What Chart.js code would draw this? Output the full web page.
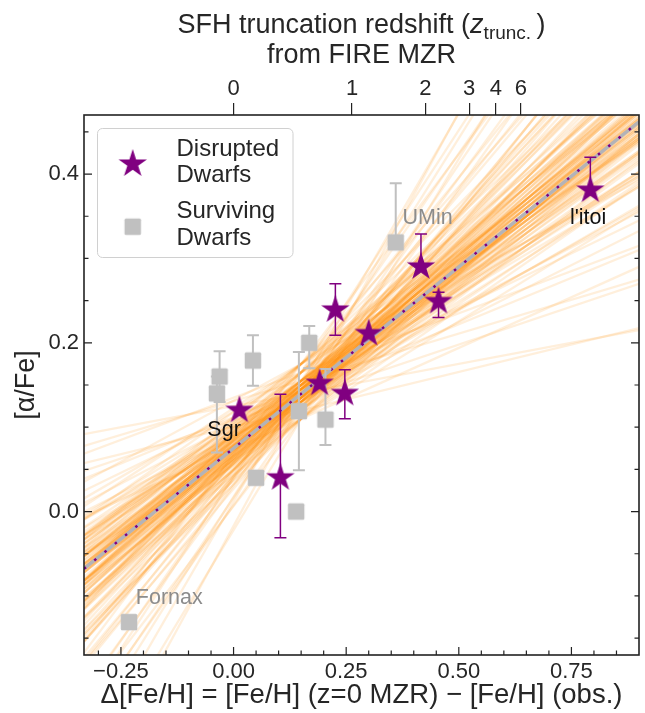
<!DOCTYPE html>
<html>
<head>
<meta charset="utf-8">
<script src="https://cdn.jsdelivr.net/npm/chart.js@4.4.0/dist/chart.umd.min.js"></script>
<style>
  html, body { margin: 0; padding: 0; background: #fff; }
</style>
</head>
<body>
<canvas id="chart" width="645" height="713"></canvas>
<script>
// axis ranges and ticks
const xMin = -0.332, xMax = 0.9;
const yMin = -0.17, yMax = 0.47;
const xTickValues = [-0.25, 0, 0.25, 0.5, 0.75];
const xTickLabels = ['\u22120.25', '0.00', '0.25', '0.50', '0.75'];
const xMinorTickValues = [-0.30, -0.20, -0.15, -0.10, -0.05, 0.05, 0.10, 0.15, 0.20, 0.30, 0.35, 0.40, 0.45, 0.55, 0.60, 0.65, 0.70, 0.80, 0.85];
const yTickValues = [0.0, 0.2, 0.4];
const yTickLabels = ['0.0', '0.2', '0.4'];
const yMinorTickValues = [-0.15, -0.10, -0.05, 0.05, 0.10, 0.15, 0.25, 0.30, 0.35, 0.45];
// top axis: truncation redshift placed at its delta[Fe/H]
const zTickValues = [0.0, 0.263, 0.426, 0.523, 0.582, 0.638];
const zTickLabels = ['0', '1', '2', '3', '4', '6'];

// disrupted dwarfs (stars)
const disruptedX = [0.013, 0.104, 0.191, 0.226, 0.247, 0.300, 0.416, 0.455, 0.792];
const disruptedY = [0.120, 0.040, 0.152, 0.239, 0.140, 0.211, 0.290, 0.249, 0.381];
const disruptedErrLo = [0, 0.071, 0, 0.03, 0.03, 0, 0, 0.019, 0];
const disruptedErrHi = [0, 0.099, 0, 0.031, 0.028, 0, 0.039, 0.011, 0.039];

// surviving dwarfs (squares)
const survivingX = [-0.232, -0.031, -0.037, 0.043, 0.050, 0.139, 0.145, 0.168, 0.204, 0.360];
const survivingY = [-0.131, 0.160, 0.140, 0.179, 0.040, 0.000, 0.119, 0.200, 0.109, 0.319];
const survivingErrLo = [0, 0.03, 0.07, 0.03, 0, 0, 0.07, 0.03, 0.03, 0];
const survivingErrHi = [0, 0.03, 0.02, 0.03, 0, 0, 0.07, 0.02, 0.06, 0.07];

// labelled galaxies
const labelNames = ['Sgr', 'UMin', "l'itoi", 'Fornax'];
const labelX = [-0.021, 0.375, 0.787, -0.217];
const labelY = [0.097, 0.348, 0.348, -0.102];

// best fit
const fitSlope = 0.43;
const fitIntercept = 0.075;

// posterior fit samples: slope, and value at samplePivotX
const samplePivotX = 0.15;
const sampleSlopes = [
  0.10, 0.13, 0.16, 0.18, 0.20, 0.22, 0.24, 0.26, 0.27, 0.29,
  0.30, 0.31, 0.32, 0.33, 0.33, 0.34, 0.35, 0.35, 0.36, 0.36,
  0.37, 0.37, 0.38, 0.38, 0.38, 0.39, 0.39, 0.39, 0.40, 0.40,
  0.40, 0.41, 0.41, 0.41, 0.41, 0.42, 0.42, 0.42, 0.42, 0.42,
  0.43, 0.43, 0.43, 0.43, 0.43, 0.43, 0.44, 0.44, 0.44, 0.44,
  0.44, 0.45, 0.45, 0.45, 0.45, 0.46, 0.46, 0.46, 0.46, 0.47,
  0.47, 0.47, 0.48, 0.48, 0.48, 0.49, 0.49, 0.50, 0.50, 0.51,
  0.51, 0.52, 0.52, 0.53, 0.53, 0.54, 0.55, 0.55, 0.56, 0.57,
  0.58, 0.59, 0.60, 0.61, 0.62, 0.63, 0.64, 0.66, 0.67, 0.69,
  0.71, 0.73, 0.75, 0.77, 0.79, 0.82, 0.85, 0.88, 0.92, 0.98,
  0.35, 0.36, 0.37, 0.38, 0.39, 0.40, 0.40, 0.41, 0.41, 0.42,
  0.42, 0.42, 0.43, 0.43, 0.43, 0.43, 0.44, 0.44, 0.44, 0.45,
  0.45, 0.45, 0.46, 0.46, 0.47, 0.47, 0.48, 0.48, 0.49, 0.50,
  0.28, 0.31, 0.33, 0.34, 0.52, 0.54, 0.56, 0.58, 0.61, 0.65,
  0.39, 0.41, 0.43, 0.44, 0.46, 0.38, 0.42, 0.45, 0.47, 0.50
];
const sampleLevels = [
  0.140, 0.120, 0.155, 0.135, 0.165, 0.145, 0.110, 0.150, 0.130, 0.175,
  0.135, 0.165, 0.145, 0.110, 0.150, 0.130, 0.175, 0.140, 0.120, 0.155,
  0.110, 0.150, 0.130, 0.175, 0.140, 0.120, 0.155, 0.135, 0.165, 0.145,
  0.155, 0.135, 0.165, 0.145, 0.110, 0.150, 0.130, 0.175, 0.140, 0.120,
  0.130, 0.175, 0.140, 0.120, 0.155, 0.135, 0.165, 0.145, 0.110, 0.150,
  0.145, 0.110, 0.150, 0.130, 0.175, 0.140, 0.120, 0.155, 0.135, 0.165,
  0.120, 0.155, 0.135, 0.165, 0.145, 0.110, 0.150, 0.130, 0.175, 0.140,
  0.165, 0.145, 0.110, 0.150, 0.130, 0.175, 0.140, 0.120, 0.155, 0.135,
  0.150, 0.130, 0.175, 0.140, 0.120, 0.155, 0.135, 0.165, 0.145, 0.110,
  0.175, 0.140, 0.120, 0.155, 0.135, 0.165, 0.145, 0.110, 0.150, 0.130,
  0.140, 0.130, 0.145, 0.135, 0.150, 0.125, 0.140, 0.155, 0.130, 0.145,
  0.135, 0.150, 0.140, 0.125, 0.145, 0.155, 0.130, 0.140, 0.150, 0.135,
  0.145, 0.125, 0.140, 0.155, 0.130, 0.145, 0.135, 0.150, 0.140, 0.125,
  0.145, 0.130, 0.155, 0.140, 0.135, 0.150, 0.125, 0.145, 0.140, 0.130,
  0.150, 0.140, 0.135, 0.145, 0.130, 0.155, 0.140, 0.125, 0.145, 0.135
];

const FONT = "'Liberation Sans', Arial, Helvetica, sans-serif";
const TEXT = '#262626';
const PURPLE = '#800080';
const SILVER = '#c0c0c0';

Chart.defaults.font.family = FONT;
Chart.defaults.color = TEXT;

// filled five point star used as marker
function makeStar(R, color) {
  const c = document.createElement('canvas');
  const s = 32;
  c.width = s; c.height = s;
  const g = c.getContext('2d');
  g.fillStyle = color;
  g.beginPath();
  for (let k = 0; k < 10; k++) {
    const r = k % 2 ? R * 0.381966 : R;
    const a = -Math.PI / 2 + k * Math.PI / 5;
    g.lineTo(s / 2 + r * Math.cos(a), s / 2 + r * Math.sin(a));
  }
  g.closePath();
  g.fill();
  return c;
}

function makeSquare(side, color) {
  const c = document.createElement('canvas');
  const s = 20;
  c.width = s; c.height = s;
  const g = c.getContext('2d');
  g.fillStyle = color;
  g.beginPath();
  g.roundRect((s - side) / 2, (s - side) / 2, side, side, 1.5);
  g.fill();
  return c;
}

const starImg = makeStar(14.9, PURPLE);
const squareImg = makeSquare(16.5, SILVER);

function points(xs, ys) {
  return xs.map((x, i) => ({ x: x, y: ys[i] }));
}

const sampleDatasets = sampleSlopes.map((s, i) => ({
  label: 'sample',
  data: [xMin, xMax].map(x => ({ x: x, y: sampleLevels[i] + s * (x - samplePivotX) })),
  showLine: true,
  borderColor: 'rgba(255,145,0,0.14)',
  borderWidth: 2.3,
  pointRadius: 0,
  order: 10
}));

const fitData = [xMin, xMax].map(x => ({ x: x, y: fitIntercept + fitSlope * x }));

// error bars, drawn right after the fit line so markers sit on top
const errorBarPlugin = {
  id: 'errorBars',
  afterDatasetDraw(chart, args) {
    if (chart.data.datasets[args.index].label !== 'fit-dots') return;
    const c = chart.ctx, xs = chart.scales.x, ys = chart.scales.y;
    function bars(X, Y, lo, hi, color, width) {
      c.save();
      c.strokeStyle = color;
      c.lineWidth = width;
      for (let i = 0; i < X.length; i++) {
        if (!lo[i] && !hi[i]) continue;
        const px = xs.getPixelForValue(X[i]);
        const top = ys.getPixelForValue(Y[i] + hi[i]);
        const bot = ys.getPixelForValue(Y[i] - lo[i]);
        c.beginPath();
        c.moveTo(px, top); c.lineTo(px, bot);
        if (hi[i]) { c.moveTo(px - 6, top); c.lineTo(px + 6, top); }
        if (lo[i]) { c.moveTo(px - 6, bot); c.lineTo(px + 6, bot); }
        c.stroke();
      }
      c.restore();
    }
    bars(survivingX, survivingY, survivingErrLo, survivingErrHi, SILVER, 2);
    bars(disruptedX, disruptedY, disruptedErrLo, disruptedErrHi, PURPLE, 1.5);
  }
};

// frame, inward ticks, labels, legend and top title
const decorPlugin = {
  id: 'decor',
  afterDatasetsDraw(chart) {
    const c = chart.ctx, xs = chart.scales.x, ys = chart.scales.y;
    const a = chart.chartArea;

    // galaxy names
    c.save();
    c.font = '21.5px ' + FONT;
    c.textBaseline = 'middle';
    labelNames.forEach((t, i) => {
      const gray = (t === 'UMin' || t === 'Fornax');
      c.fillStyle = gray ? '#8c8c8c' : '#111';
      c.textAlign = gray ? 'left' : 'center';
      c.fillText(t, xs.getPixelForValue(labelX[i]), ys.getPixelForValue(labelY[i]));
    });
    c.restore();

    // ticks
    c.save();
    c.strokeStyle = '#222';
    c.lineWidth = 1.2;
    c.beginPath();
    xTickValues.forEach(v => { const p = xs.getPixelForValue(v); c.moveTo(p, a.bottom); c.lineTo(p, a.bottom - 8); });
    xMinorTickValues.forEach(v => { const p = xs.getPixelForValue(v); c.moveTo(p, a.bottom); c.lineTo(p, a.bottom - 4.5); });
    yTickValues.forEach(v => {
      const p = ys.getPixelForValue(v);
      c.moveTo(a.left, p); c.lineTo(a.left + 8, p);
      c.moveTo(a.right, p); c.lineTo(a.right - 8, p);
    });
    yMinorTickValues.forEach(v => {
      const p = ys.getPixelForValue(v);
      c.moveTo(a.left, p); c.lineTo(a.left + 4.5, p);
      c.moveTo(a.right, p); c.lineTo(a.right - 4.5, p);
    });
    c.stroke();

    // frame
    c.lineWidth = 1.6;
    c.strokeRect(a.left, a.top, a.right - a.left, a.bottom - a.top);
    c.restore();

    // legend
    c.save();
    c.beginPath();
    c.roundRect(97.5, 128.5, 195.5, 129, 5);
    c.fillStyle = 'rgba(255,255,255,0.85)';
    c.fill();
    c.strokeStyle = '#d0d0d0';
    c.lineWidth = 1;
    c.stroke();
    c.drawImage(starImg, 132.7 - 16, 164 - 16);
    c.drawImage(squareImg, 132.7 - 10, 226.7 - 10);
    c.font = '24px ' + FONT;
    c.fillStyle = TEXT;
    c.textAlign = 'left';
    c.textBaseline = 'alphabetic';
    c.fillText('Disrupted', 176.5, 156);
    c.fillText('Dwarfs', 176.5, 182);
    c.fillText('Surviving', 176.5, 218);
    c.fillText('Dwarfs', 176.5, 244.5);
    c.restore();

    // top title with subscript
    c.save();
    c.fillStyle = TEXT;
    c.textBaseline = 'alphabetic';
    c.textAlign = 'left';
    const parts = [
      ['SFH truncation redshift (', '27px ' + FONT, 0],
      ['z', 'italic 27px ' + FONT, 0],
      ['trunc.', '19px ' + FONT, 6],
      ['\u2009)', '27px ' + FONT, 0]
    ];
    let total = 0;
    parts.forEach(p => { c.font = p[1]; total += c.measureText(p[0]).width; });
    const cx = (a.left + a.right) / 2;
    let x = cx - total / 2;
    parts.forEach(p => { c.font = p[1]; c.fillText(p[0], x, 33 + p[2]); x += c.measureText(p[0]).width; });
    c.font = '27px ' + FONT;
    c.textAlign = 'center';
    c.fillText('from FIRE MZR', cx, 63);
    c.restore();
  }
};

function noHPad(s) { s.paddingLeft = 0; s.paddingRight = 0; }

new Chart(document.getElementById('chart'), {
  type: 'scatter',
  data: {
    datasets: [
      {
        label: 'Disrupted Dwarfs',
        data: points(disruptedX, disruptedY),
        pointStyle: starImg,
        pointRadius: 10,
        order: 0
      },
      {
        label: 'Surviving Dwarfs',
        data: points(survivingX, survivingY),
        pointStyle: squareImg,
        pointRadius: 10,
        order: 1
      },
      {
        label: 'fit-dots',
        data: fitData,
        showLine: true,
        borderColor: PURPLE,
        borderWidth: 2.5,
        borderDash: [2.5, 10.7],
        pointRadius: 0,
        order: 2
      },
      {
        label: 'fit',
        data: fitData,
        showLine: true,
        borderColor: '#b3b3b8',
        borderWidth: 3.5,
        pointRadius: 0,
        order: 3
      }
    ].concat(sampleDatasets)
  },
  options: {
    responsive: false,
    animation: false,
    events: [],
    layout: { autoPadding: false, padding: { right: 6, left: 0, top: 0, bottom: 0 } },
    plugins: { legend: { display: false }, tooltip: { enabled: false } },
    scales: {
      x: {
        type: 'linear',
        position: 'bottom',
        min: xMin, max: xMax,
        bounds: 'data',
        afterFit: s => { s.height = 58; noHPad(s); },
        afterBuildTicks: s => { s.ticks = xTickValues.map(v => ({ value: v })); },
        grid: { display: false, drawTicks: false },
        border: { display: false },
        ticks: {
          callback: (v, i) => xTickLabels[i],
          font: { size: 22 },
          color: TEXT,
          padding: 4,
          maxRotation: 0,
          autoSkip: false
        },
        title: {
          display: true,
          text: '\u0394[Fe/H] = [Fe/H] (z=0 MZR) \u2212 [Fe/H] (obs.)',
          font: { size: 27.5 },
          color: TEXT,
          padding: { top: 0, bottom: 1 }
        }
      },
      x2: {
        type: 'linear',
        position: 'top',
        min: xMin, max: xMax,
        bounds: 'data',
        afterFit: s => { s.height = 115; noHPad(s); },
        afterBuildTicks: s => { s.ticks = zTickValues.map(v => ({ value: v })); },
        grid: { display: true, drawOnChartArea: false, drawTicks: true, tickLength: 12, color: '#222', lineWidth: 1.2 },
        border: { display: false },
        ticks: {
          callback: (v, i) => zTickLabels[i],
          font: { size: 22 },
          color: TEXT,
          padding: 1,
          maxRotation: 0,
          autoSkip: false
        }
      },
      y: {
        type: 'linear',
        position: 'left',
        min: yMin, max: yMax,
        bounds: 'data',
        afterFit: s => { s.width = 84; s.paddingTop = 0; s.paddingBottom = 0; },
        afterBuildTicks: s => { s.ticks = yTickValues.map(v => ({ value: v })); },
        grid: { display: false, drawTicks: false },
        border: { display: false },
        ticks: {
          callback: (v, i) => yTickLabels[i],
          font: { size: 22 },
          color: TEXT,
          padding: 5
        },
        title: {
          display: true,
          text: '[\u03b1/Fe]',
          font: { size: 27 },
          color: TEXT,
          padding: { top: 10, bottom: 0 }
        }
      }
    }
  },
  plugins: [errorBarPlugin, decorPlugin]
});
</script>
</body>
</html>
